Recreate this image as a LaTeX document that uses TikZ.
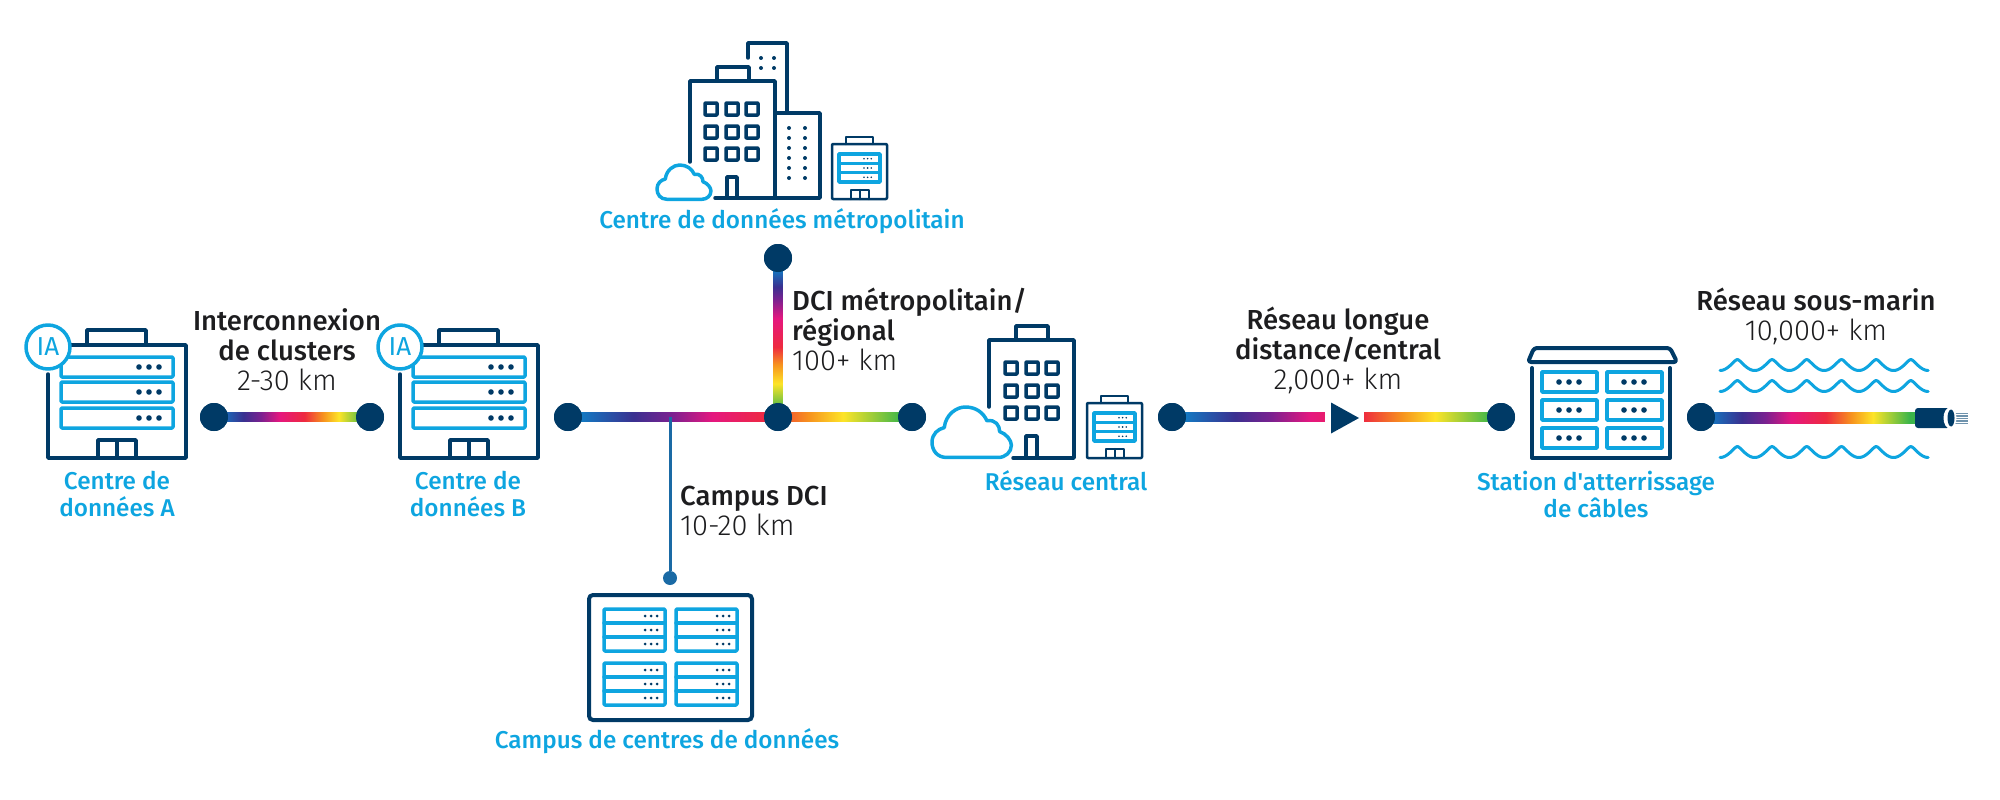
\documentclass[tikz,border=0pt]{standalone}
\usepackage{fontspec}
\setmainfont{Fira Sans}
\newfontfamily\medf{Fira Sans Medium}
\newfontfamily\lightf{Fira Sans Light}
\newcommand{\kmtxt}[1]{{\lightf\fontsize{29}{30}\selectfont #1}}
\usetikzlibrary{calc}
\definecolor{navy}{HTML}{003A66}
\definecolor{cyanb}{HTML}{0EA5E0}
\definecolor{inkk}{HTML}{1D1D1F}
\definecolor{rb1}{HTML}{0E82C8}
\definecolor{rb2}{HTML}{3A3090}
\definecolor{rb3}{HTML}{7A2190}
\definecolor{rb4}{HTML}{E5177F}
\definecolor{rb5}{HTML}{EE2A3F}
\definecolor{rb6}{HTML}{F7931E}
\definecolor{rb7}{HTML}{FDE428}
\definecolor{rb8}{HTML}{3BB54A}
\definecolor{thinblue}{HTML}{1A6AA5}
\definecolor{fibre}{HTML}{6F93AD}
\pgfdeclarehorizontalshading{rainbowh}{100bp}{color(0bp)=(rb1); color(26bp)=(rb1); color(34.5bp)=(rb2); color(40bp)=(rb3); color(46bp)=(rb4); color(54bp)=(rb5); color(60bp)=(rb6); color(65bp)=(rb7); color(73.5bp)=(rb8); color(100bp)=(rb8)}
\pgfdeclareverticalshading{rainbowv}{100bp}{color(0bp)=(rb8); color(27bp)=(rb8); color(35.5bp)=(rb7); color(41.5bp)=(rb6); color(47bp)=(rb5); color(56bp)=(rb4); color(62bp)=(rb3); color(66bp)=(rb2); color(72bp)=(rb1); color(100bp)=(rb1)}
\tikzset{
  x=1pt,y=-1pt,
  nv/.style={draw=navy,line width=3.5pt,line join=round,line cap=round},
  nvthin/.style={draw=navy,line width=2.5pt,line join=round,line cap=round},
  cy/.style={draw=cyanb,line width=3.5pt,line join=round,line cap=round},
  cythin/.style={draw=cyanb,line width=2.5pt,line join=round,line cap=round},
  junction/.style={circle,fill=navy,minimum size=28pt,inner sep=0pt},
  tinyjunction/.style={circle,fill=thinblue,minimum size=14pt,inner sep=0pt},
  bluelabel/.style={text=cyanb,font=\medf\fontsize{24.3}{27}\selectfont,align=center,inner sep=0pt},
  blacklabel/.style={text=inkk,font=\medf\fontsize{27.5}{30}\selectfont,align=center,inner sep=0pt},
  leftlabel/.style={blacklabel,align=left,anchor=west},
  fibreline/.style={shade,shading=rainbowh},
  wave/.style={draw=cyanb,line width=3pt,line cap=round,line join=round},
  serverdots/.pic={\foreach \dx in {0,10,20}{\fill[navy] (\dx,0) circle (2.8);}},
  tinydots/.pic={\foreach \dx in {0,6,12}{\fill[navy] (\dx,0) circle (1.5);}},
  iabuilding/.pic={
    \draw[nv] (14,0) -- (138,0) -- (138,113) -- (0,113) -- (0,29);
    \draw[nv] (39,0) -- (39,-15) -- (98,-15) -- (98,0);
    \draw[nv] (50,113) -- (50,95) -- (88,95) -- (88,113);
    \draw[nv] (69,95) -- (69,113);
    \foreach \yy in {12,37,63}{
      \draw[cy,rounded corners=1pt] (13,\yy) rectangle (125,\yy+20);
      \pic at (91,\yy+10) {serverdots};
    }
    \draw[cy,fill=white] (0,2) circle (22);
    \node[text=cyanb,font=\fontsize{26}{26}\selectfont,inner sep=0pt] at (0,2) {IA};
  },
  smalldc/.pic={
    \draw[nvthin,rounded corners=1pt] (0,0) rectangle (55,55);
    \draw[nvthin] (14,0) -- (14,-7) -- (41,-7) -- (41,0);
    \draw[nvthin] (19,55) -- (19,46) -- (37,46) -- (37,55);
    \draw[nvthin] (28,46) -- (28,55);
    \draw[cy] (7,10) rectangle (48,38);
    \draw[cythin] (7,19.3) -- (48,19.3);
    \draw[cythin] (7,28.6) -- (48,28.6);
    \foreach \yy in {14.7,24,33.3}{\pic[scale=.6] at (32,\yy) {tinydots};}
  },
  windowsgrid/.pic={
    \foreach \xx in {0,21,41}{\foreach \yy in {0,23,45}{
      \draw[nv,rounded corners=.5pt] (\xx-6,\yy-6) rectangle (\xx+6,\yy+6);
    }}
  },
  cloudshape/.pic={
    \draw[cy,fill=white] (30,103) .. controls (10,103) and (0,88) .. (0,72) .. controls (0,55) and (12,45) .. (25,42) .. controls (28,15) and (50,0) .. (68,0) .. controls (90,0) and (105,12) .. (112,28) .. controls (130,25) and (138,38) .. (138,50) .. controls (152,55) and (162,68) .. (162,78) .. controls (162,92) and (150,103) .. (135,103) -- cycle;
  },
  dcblock/.pic={
    \draw[cy,rounded corners=1pt] (0,0) rectangle (61,42);
    \draw[cy] (0,14) -- (61,14);
    \draw[cy] (0,28) -- (61,28);
    \foreach \yy in {7,21,35}{\pic at (41,\yy) {tinydots};}
  }
}
\newcommand{\waverow}[2]{% x0, y
  \draw[wave] plot[samples=145,domain=0:6] ({#1+34.7*\x},{#2-5.5+11*(sqrt(pow(sin(180*(\x-0.5)),2)+0.03)-0.173)/0.842});
}
\begin{document}
\begin{tikzpicture}
\useasboundingbox (0,0) rectangle (2000,800);
% junctions
\node[junction] (A) at (214,417) {};
\node[junction] (B) at (370,417) {};
\node[junction] (C) at (568,417) {};
\node[junction] (J) at (778,417) {};
\node[junction] (K) at (912,417) {};
\node[junction] (T) at (778,258) {};
\node[junction] (L) at (1172,417) {};
\node[junction] (M) at (1501,417) {};
\node[junction] (N) at (1701,417) {};
\node[tinyjunction] (S) at (670,578) {};
\coordinate (CB) at (1916,418);
\coordinate (TP) at (670,417);
\coordinate (AP) at (1345,418);
% connectors
\path[fibreline] ($(A)+(0,-4.5)$) rectangle ($(B)+(0,4.5)$);
\path[fibreline] ($(C)+(0,-4.5)$) rectangle ($(K)+(0,4.5)$);
\path[shade,shading=rainbowv] ($(T)+(-4.5,0)$) rectangle ($(J)+(4.5,0)$);
\path[fibreline] ($(L)+(0,-4.5)$) rectangle ($(M)+(0,4.5)$);
\path[fibreline] ($(N)+(0,-5)$) rectangle ($(CB)+(0,5)$);
\draw[thinblue,line width=3pt] (TP) -- (S);
% redraw junctions over the connectors
\foreach \n in {A,B,C,J,K,T,L,M,N}{\fill[navy] (\n) circle (14);}
\fill[white] ($(AP)+(-20,-8)$) rectangle ($(AP)+(19,8)$);
\fill[navy] ($(AP)+(-14,-15.5)$) -- ($(AP)+(14,0)$) -- ($(AP)+(-14,15.5)$) -- cycle;
% submarine cable end
\foreach \yy in {-4.5,-2,0.5,3,5.5}{\draw[fibre,line width=1.2pt] ($(CB)+(34,\yy)$) -- ($(CB)+(52,\yy)$);}
\fill[navy,rounded corners=3pt] ($(CB)+(-1,-10)$) -- ($(CB)+(34,-10)$) -- ($(CB)+(34,10)$) -- ($(CB)+(-1,10)$) -- cycle;
\fill[white] ($(CB)+(34,0)$) ellipse (6.5 and 10.5);
\fill[navy] ($(CB)+(35,0)$) ellipse (3.5 and 8.5);
% waves
\waverow{1720}{365}
\waverow{1720}{386}
\waverow{1720}{452}
% buildings
\pic at (48,345) {iabuilding};
\pic at (400,345) {iabuilding};
% metro
\draw[nv] (748,58) -- (748,43) -- (787,43) -- (787,112);
\foreach \xx in {761,774}{\foreach \yy in {58,68}{\fill[navy] (\xx,\yy) circle (2);}}
\draw[nv] (690,162) -- (690,81) -- (775,81) -- (775,198);
\draw[nv] (717,81) -- (717,67) -- (749,67) -- (749,81);
\pic at (711,109) {windowsgrid};
\draw[nv] (775,113) -- (820,113) -- (820,198) -- (715,198);
\foreach \xx in {789,805}{\foreach \yy in {128,138,148,158,168,178}{\fill[navy] (\xx,\yy) circle (2);}}
\draw[nv] (727,198) -- (727,177) -- (737,177) -- (737,198);
\pic[scale=.333] at (657,165) {cloudshape};
\pic at (832,144) {smalldc};
% central
\draw[nv] (989,407) -- (989,340) -- (1074,340) -- (1074,458) -- (1013,458);
\draw[nv] (1016,340) -- (1016,326) -- (1048,326) -- (1048,340);
\pic at (1011,368) {windowsgrid};
\draw[nv] (1026,458) -- (1026,436) -- (1037,436) -- (1037,458);
\pic[scale=.49] at (932,407) {cloudshape};
\pic at (1087,403) {smalldc};
% campus
\draw[navy,line width=4pt,rounded corners=4pt] (589,595) rectangle (752,720);
\pic at (604,609) {dcblock};
\pic at (676,609) {dcblock};
\pic at (604,663) {dcblock};
\pic at (676,663) {dcblock};
% station
\draw[nv,line width=4pt,rounded corners=3pt] (1534,348) -- (1670,348) -- (1677,362) -- (1528,362) -- cycle;
\draw[nv,line width=4pt] (1532,368) -- (1532,458) -- (1670,458) -- (1670,368);
\foreach \xx in {1542,1607}{\foreach \yy in {372,400,428}{
  \draw[cy] (\xx,\yy) rectangle (\xx+55,\yy+20);
  \pic at (\xx+17,\yy+10) {serverdots};
}}
% labels
\node[bluelabel] (la) at (117,494) {Centre de\\données A};
\node[bluelabel] (lb) at (468,494) {Centre de\\données B};
\node[bluelabel] (lm) at (782,221) {Centre de données métropolitain};
\node[bluelabel] (lc) at (1066,481) {Réseau central};
\node[bluelabel] (ls) at (1596,494) {Station d'atterrissage\\de câbles};
\node[bluelabel] (lk) at (667,741) {Campus de centres de données};
\node[blacklabel] (t1) at (287,350) {Interconnexion\\de clusters\\\kmtxt{2-30 km}};
\node[leftlabel] (t2) at (792,329) {DCI métropolitain/\\régional\\\kmtxt{100+ km}};
\node[leftlabel] (t3) at (680,511) {Campus DCI\\\kmtxt{10-20 km}};
\node[blacklabel] (t4) at (1338,350) {Réseau longue\\distance/central\\\kmtxt{2,000+ km}};
\node[blacklabel] (t5) at (1816,316) {Réseau sous-marin\\\kmtxt{10,000+ km}};
\end{tikzpicture}
\end{document}
